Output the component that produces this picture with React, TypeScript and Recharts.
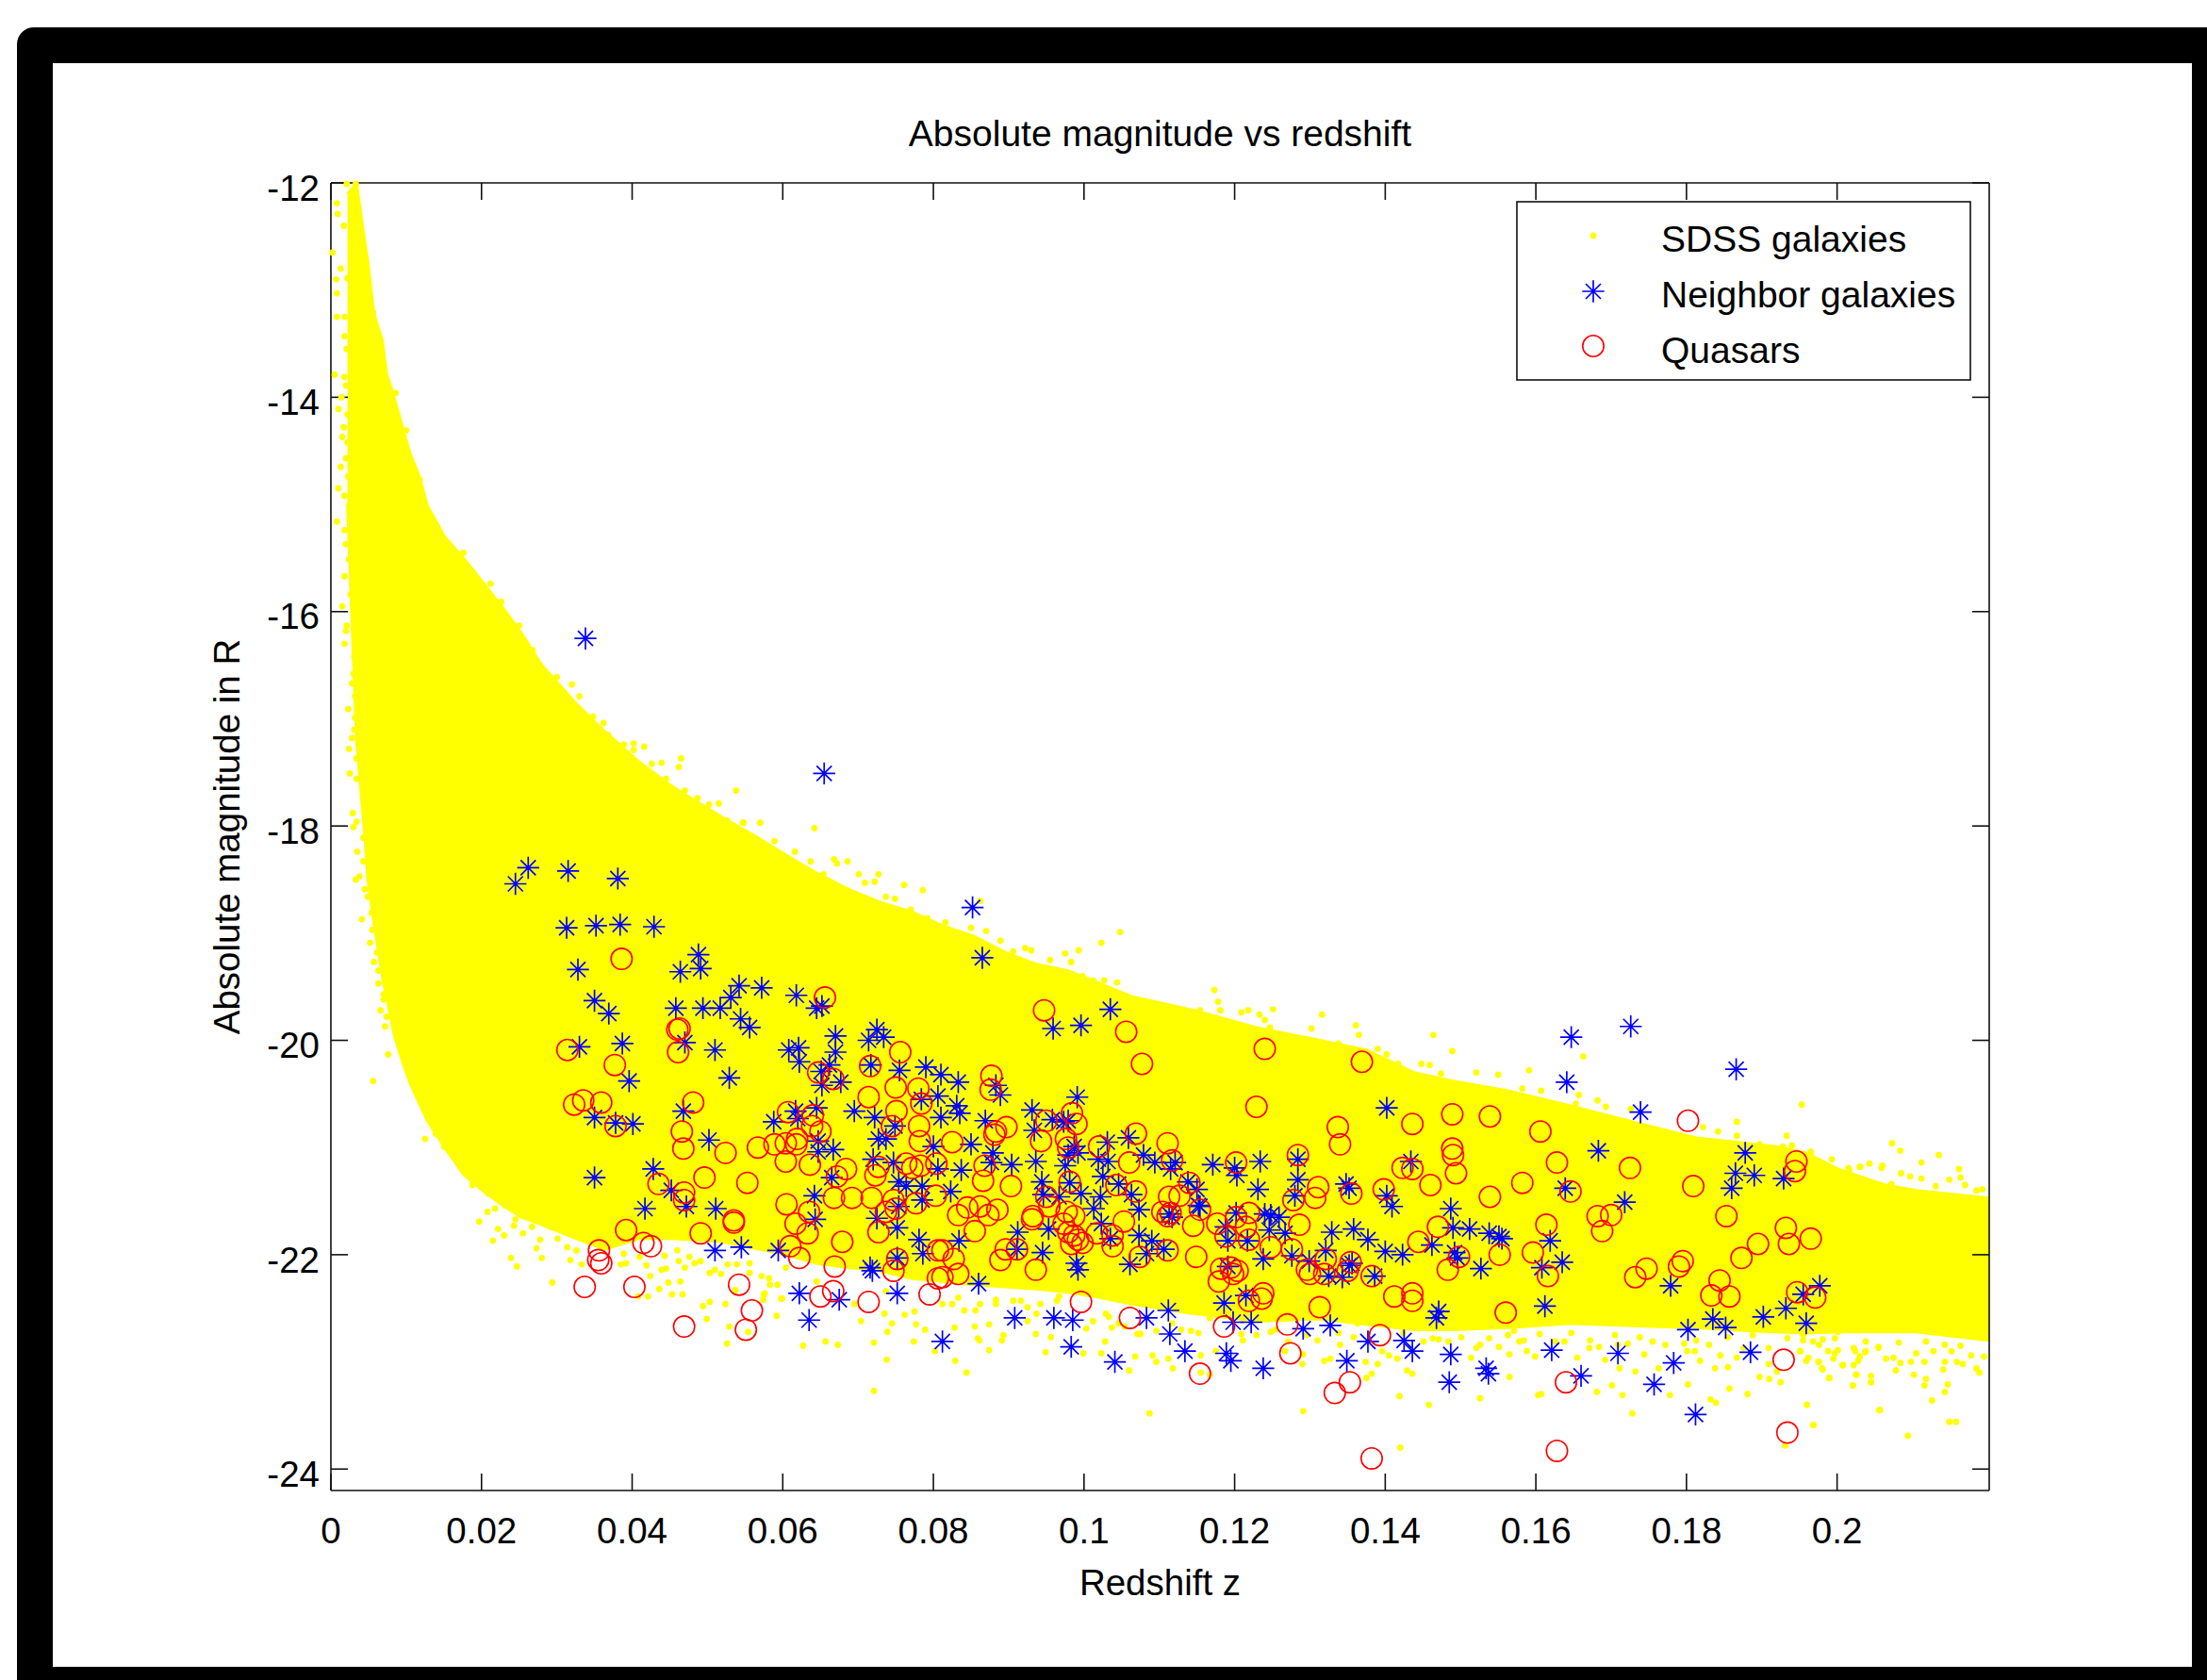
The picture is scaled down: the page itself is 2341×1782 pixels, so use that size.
import React from 'react';
import { ComposedChart, Area, Scatter, XAxis, YAxis, Legend } from 'recharts';

const titleText = 'Absolute magnitude vs redshift';
const xLabelText = 'Redshift z';
const yLabelText = 'Absolute magnitude in R';
const legendOrder = ['SDSS galaxies', 'Neighbor galaxies', 'Quasars'];
const zTicks = [0, 0.02, 0.04, 0.06, 0.08, 0.1, 0.12, 0.14, 0.16, 0.18, 0.2];
const magTicks = [-12, -14, -16, -18, -20, -22, -24];
const zDomain = [0, 0.2202];
const magDomain = [-24.2, -12];

// Solid body of the SDSS cloud: [z, bright edge, faint edge]
const sdssBand = [
  [0.0022, -12.1, -15.0], [0.0034, -12.0, -17.2], [0.0045, -12.55, -18.1], [0.0049, -12.73, -18.5], [0.0057, -13.22, -18.9],
  [0.0068, -13.46, -19.4], [0.0074, -13.78, -19.6], [0.0084, -14.0, -19.95], [0.0095, -14.28, -20.2], [0.0105, -14.52, -20.4],
  [0.0118, -14.75, -20.6], [0.0128, -15.01, -20.75], [0.0151, -15.3, -21.0], [0.0176, -15.5, -21.25], [0.0201, -15.72, -21.4],
  [0.023, -15.98, -21.55], [0.0253, -16.2, -21.65], [0.028, -16.5, -21.72], [0.0326, -16.86, -21.85], [0.0364, -17.12, -21.95],
  [0.0409, -17.4, -21.85], [0.0451, -17.62, -21.85], [0.0478, -17.74, -21.86], [0.052, -17.92, -21.88], [0.0562, -18.09, -21.94],
  [0.0604, -18.27, -22.0], [0.0645, -18.44, -22.08], [0.0687, -18.59, -22.12], [0.0729, -18.71, -22.15], [0.0771, -18.8, -22.22],
  [0.0812, -18.93, -22.25], [0.0854, -19.03, -22.28], [0.0896, -19.18, -22.3], [0.0937, -19.29, -22.32], [0.0979, -19.35, -22.35],
  [0.1021, -19.47, -22.4], [0.1063, -19.59, -22.46], [0.1146, -19.72, -22.55], [0.1229, -19.88, -22.62], [0.1313, -20.0, -22.6],
  [0.1375, -20.09, -22.65], [0.1438, -20.3, -22.7], [0.149, -20.38, -22.7], [0.1563, -20.47, -22.68], [0.1646, -20.61, -22.64],
  [0.1751, -20.8, -22.67], [0.1813, -20.91, -22.68], [0.1855, -20.94, -22.7], [0.1917, -20.99, -22.72], [0.1959, -21.05, -22.73],
  [0.2001, -21.2, -22.72], [0.2064, -21.35, -22.72], [0.2105, -21.4, -22.72], [0.2201, -21.47, -22.8],
];

// Individually visible SDSS dots around the body
const sdssLeftDots = [
  [.0021,-12.01],[.0033,-12.01],[.0008,-12.19],[.0009,-12.29],[.0017,-12.40],[.0002,-12.65],[.0013,-12.80],[.0007,-12.90],[.0022,-12.89],[.0008,-13.03],
  [.0008,-13.25],[.0018,-13.25],[.0018,-13.43],[.0021,-13.55],[.0005,-13.79],[.0018,-13.81],[.0020,-13.89],[.0014,-14.00],[.0010,-14.11],[.0022,-14.16],
  [.0017,-14.28],[.0015,-14.37],[.0022,-14.42],[.0013,-14.65],[.0020,-14.57],[.0023,-14.74],[.0010,-14.85],[.0018,-14.92],[.0025,-15.00],[.0028,-15.07],
  [.0008,-15.16],[.0018,-15.24],[.0020,-15.37],[.0024,-15.51],[.0018,-15.67],[.0028,-15.75],[.0026,-15.84],[.0015,-15.95],[.0032,-16.04],[.0021,-16.13],
  [.0020,-16.18],[.0018,-16.30],[.0036,-16.32],[.0043,-16.19],[.0033,-15.13],[.0038,-15.48],[.0052,-13.14],[.0056,-13.21],[.0086,-13.96],[.0078,-13.92],
  [.0100,-14.31],[.0118,-14.77],[.0176,-15.45],[.0212,-15.74],[.0226,-15.91],[.0250,-16.13],[.0249,-16.21],[.0268,-16.36],
  [.0031,-16.42],[.0030,-16.58],[.0028,-16.67],[.0032,-16.79],[.0023,-16.91],[.0032,-16.99],[.0031,-17.10],[.0028,-17.18],[.0024,-17.28],[.0034,-17.37],
  [.0025,-17.51],[.0034,-17.56],[.0043,-17.71],[.0029,-17.88],[.0034,-17.96],[.0030,-18.01],[.0043,-18.11],[.0055,-18.17],[.0035,-18.24],[.0043,-18.33],
  [.0055,-18.36],[.0038,-18.47],[.0033,-18.50],[.0055,-18.46],[.0045,-18.59],[.0049,-18.66],[.0054,-18.81],[.0041,-18.87],[.0055,-18.97],[.0052,-19.09],
  [.0061,-19.18],[.0057,-19.27],[.0063,-19.35],[.0063,-19.47],[.0078,-19.47],[.0070,-19.57],[.0070,-19.62],[.0066,-19.72],[.0074,-19.78],[.0072,-19.87],
  [.0086,-19.91],[.0093,-19.96],[.0106,-20.00],[.0076,-20.13],[.0106,-20.18],[.0108,-20.26],[.0056,-20.38],[.0116,-20.35],[.0114,-20.44],[.0126,-20.50],
  [.0133,-20.62],[.0149,-20.67],[.0159,-20.72],
];
const sdssUpperDots = [
  [.0538,-17.67],[.0465,-17.37],[.0462,-17.45],[.0416,-17.26],[.0402,-17.23],[.0402,-17.29],[.0439,-17.41],[.0362,-17.04],[.0348,-16.98],[.0320,-16.68],
  [.0300,-16.61],[.0330,-16.79],[.0570,-17.97],[.0548,-17.97],[.0515,-17.79],[.0502,-17.80],[.0445,-17.56],[.0368,-17.15],[.0389,-17.24],[.0426,-17.42],
  [.0470,-17.67],[.0487,-17.74],[.0526,-17.95],[.0547,-17.97],[.0589,-18.14],[.0616,-18.24],[.0642,-18.02],[.0668,-18.31],[.0686,-18.33],[.0672,-18.35],
  [.0637,-18.33],[.0654,-18.45],[.0701,-18.45],[.0727,-18.45],[.0709,-18.53],[.0722,-18.52],[.0761,-18.55],[.0786,-18.60],[.0737,-18.66],[.0749,-18.68],
  [.0770,-18.78],[.0792,-18.86],[.0816,-18.90],[.0850,-18.95],[.0862,-18.70],[.0870,-18.98],[.0889,-19.07],[.0922,-19.14],[.0930,-19.16],[.0906,-19.17],
  [.0955,-19.25],[.0975,-19.19],[.0993,-19.16],[.1023,-19.09],[.1048,-18.99],[.0983,-19.27],[.0998,-19.40],[.1012,-19.44],[.1027,-19.44],[.1044,-19.46],
  [.1316,-19.76],[.1251,-19.71],[.1361,-19.86],[.1365,-19.95],[.1302,-19.89],[.1173,-19.53],[.1178,-19.64],[.1181,-19.72],[.1218,-19.72],[.1209,-19.74],
  [.1233,-19.76],[.1240,-19.81],[.1247,-19.88],[.1390,-20.08],[.1417,-20.22],[.1402,-20.13],[.1154,-19.72],[.1284,-19.98],[.1308,-20.01],[.1338,-20.03],
  [.1464,-19.95],[.1489,-20.10],[.1448,-20.22],[.1459,-20.23],[.1474,-20.31],[.1521,-20.30],[.1550,-20.32],[.1591,-20.28],[.1582,-20.45],[.1607,-20.47],
  [.1663,-20.15],[.1657,-20.51],[.1682,-20.56],[.1653,-20.59],[.1693,-20.62],[.1726,-20.64],[.1953,-20.60],[.1867,-20.76],[.1933,-20.89],[.1822,-20.81],
  [.1842,-20.85],[.1867,-20.89],[.1897,-20.97],[.1940,-20.98],[.1928,-20.99],[.1965,-21.05],[.1993,-21.11],[.2015,-21.19],[.2030,-21.18],[.2043,-21.15],
  [.2059,-21.19],[.2073,-20.96],[.2084,-21.03],[.2135,-21.07],[.2112,-21.14],[.2162,-21.20],[.1965,-21.04],[.2031,-21.18],[.2060,-21.17],[.2085,-21.24],
  [.2097,-21.27],[.2112,-21.29],[.2149,-21.30],[.2164,-21.28],[.2170,-21.35],[.2193,-21.39],[.2185,-21.40],[.2131,-21.36],[.2072,-21.34],[.2016,-21.21],
];
const sdssLowerDots = [
  [.0125,-20.92],[.0133,-20.62],[.0139,-20.87],[.0150,-20.99],[.0162,-20.86],[.0167,-21.01],[.0175,-21.06],[.0184,-21.06],[.0189,-21.27],[.0188,-21.35],
  [.0197,-21.69],[.0208,-21.60],[.0209,-21.43],[.0215,-21.87],[.0222,-21.76],[.0230,-21.82],[.0239,-22.03],[.0247,-22.11],[.0280,-22.03],[.0294,-22.26],
  [.0273,-21.94],[.0255,-21.80],[.0245,-21.67],[.0267,-21.74],[.0248,-21.54],[.0266,-21.65],[.0218,-21.57],[.0232,-21.54],[.0278,-21.86],[.0301,-21.85],
  [.0314,-21.93],[.0318,-22.05],[.0333,-22.09],[.0326,-21.96],[.0280,-21.61],[.0243,-21.73],[.0291,-21.74],[.0312,-21.79],[.0320,-21.80],[.0347,-21.80],
  [.0385,-22.09],[.0392,-22.08],[.0419,-22.10],[.0424,-22.20],[.0439,-22.14],[.0445,-22.13],[.0436,-22.32],[.0453,-22.37],[.0467,-22.37],[.0421,-22.39],
  [.0408,-22.39],[.0448,-22.26],[.0464,-22.25],[.0470,-22.12],[.0476,-22.02],[.0462,-22.06],[.0483,-22.08],[.0491,-22.06],[.0503,-22.17],[.0510,-22.14],
  [.0518,-22.18],[.0527,-22.09],[.0539,-22.09],[.0537,-22.33],[.0556,-22.08],[.0556,-22.17],[.0572,-22.20],[.0582,-22.22],[.0593,-22.28],[.0604,-22.12],
  [.0576,-22.36],[.0574,-22.42],[.0598,-22.41],[.0592,-22.57],[.0524,-22.46],[.0503,-22.44],[.0494,-22.48],[.0499,-22.60],[.0529,-22.67],[.0554,-22.72],
  [.0526,-22.83],[.0389,-21.99],[.0410,-22.02],[.0443,-22.01],[.0460,-21.96],
  [.0599,-22.41],[.0575,-22.37],[.0627,-22.85],[.0657,-22.81],[.0673,-22.84],[.0721,-22.82],[.0738,-22.98],[.0721,-23.27],[.0774,-22.81],[.0789,-22.70],
  [.0777,-22.65],[.0739,-22.72],[.0745,-22.64],[.0735,-22.55],[.0704,-22.62],[.0762,-22.56],[.0829,-22.99],[.0844,-23.10],[.0802,-22.90],[.0828,-22.68],
  [.0855,-22.67],[.0874,-22.65],[.0859,-22.78],[.0874,-22.89],[.0893,-22.75],[.0891,-22.80],[.0936,-22.74],[.0956,-22.77],[.0949,-22.91],[.0999,-22.92],
  [.1023,-22.92],[.1028,-22.81],[.1068,-22.95],[.1091,-22.94],[.1096,-23.00],[.1060,-23.08],[.1118,-23.06],[.1087,-23.48],[.1155,-23.10],[.1112,-22.97],
  [.1155,-22.94],[.1175,-22.90],[.1003,-22.69],[.0925,-22.62],[.1012,-22.62],[.1037,-22.68],[.1071,-22.74],[.0583,-22.28],[.0645,-22.25],[.0695,-22.46],
  [.0737,-22.34],[.0775,-22.53],[.0812,-22.46],[.0833,-22.40],[.0856,-22.52],[.0883,-22.46],[.0916,-22.43],[.0937,-22.55],[.0964,-22.43],[.1033,-22.58],
  [.1291,-23.46],[.1419,-23.32],[.1420,-23.80],[.0861,-22.80],[.1167,-23.12],[.1211,-22.80],[.1152,-22.73],[.1142,-22.71],[.1248,-22.72],[.1267,-22.90],
  [.1291,-22.93],[.1290,-23.02],[.1319,-22.99],[.1327,-22.97],[.1340,-22.84],[.1310,-22.80],[.1374,-23.00],[.1390,-23.02],[.1405,-22.94],[.1416,-22.97],
  [.1375,-23.15],[.1382,-23.11],[.1075,-22.74],[.1129,-22.70],[.1054,-22.67],[.1209,-22.74],[.1271,-22.81],[.1358,-22.77],[.1396,-22.90],[.1429,-23.08],
  [.1436,-23.11],
  [.0825,-22.46],[.0841,-22.52],[.0862,-22.46],[.0883,-22.42],[.0906,-22.43],[.0925,-22.49],[.0942,-22.46],[.0967,-22.39],[.1012,-22.62],[.1029,-22.55],
  [.1046,-22.64],[.1096,-22.71],[.1117,-22.64],[.1167,-22.59],[.1229,-22.75],[.1254,-22.70],[.1296,-22.75],[.1338,-22.73],[.1363,-22.64],[.1424,-22.73],
  [.1440,-22.64],
  [.1458,-23.40],[.1526,-23.34],[.1565,-23.14],[.1603,-23.31],[.1607,-23.30],[.1681,-23.28],[.1701,-23.22],[.1715,-23.31],[.1728,-23.48],[.1778,-23.31],
  [.1802,-23.21],[.1832,-23.35],[.1839,-23.38],[.1857,-23.25],[.1881,-23.30],[.1897,-23.14],[.1910,-23.16],[.1925,-23.19],[.1960,-23.40],[.1968,-23.59],
  [.1931,-23.78],[.2021,-23.22],[.2045,-23.19],[.2056,-23.45],[.1989,-23.15],[.2045,-23.13],[.1514,-22.96],[.1565,-22.93],[.1588,-22.90],[.1599,-22.95],
  [.1551,-22.86],[.1578,-22.81],[.1655,-22.96],[.1671,-22.87],[.1684,-22.86],[.1692,-22.98],[.1711,-23.06],[.1732,-23.09],[.1744,-22.93],[.1763,-23.06],
  [.1801,-22.90],[.1811,-22.90],[.1818,-22.99],[.1838,-23.06],[.1855,-23.05],[.1909,-23.02],[.1920,-23.09],[.1951,-22.90],[.1980,-23.06],[.2007,-23.03],
  [.2022,-23.03],[.2026,-23.12],[.2030,-22.95],[.1959,-22.99],[.1976,-23.00],[.1997,-22.92],[.2038,-22.90],[.1876,-22.87],[.1845,-22.94],[.1772,-22.84],
  [.1709,-22.84],[.1638,-22.81],[.1526,-22.84],[.1451,-22.81],[.1471,-22.79],
  [.1463,-22.78],[.1484,-22.81],[.1501,-22.77],[.1521,-22.87],[.1538,-22.78],[.1563,-22.75],[.1571,-22.71],[.1584,-22.80],[.1605,-22.74],[.1626,-22.81],
  [.1647,-22.73],[.1672,-22.80],[.1705,-22.75],[.1722,-22.83],[.1738,-22.77],[.1755,-22.81],[.1797,-22.83],[.1813,-22.80],[.1830,-22.84],[.1855,-22.77],
  [.1867,-22.96],[.1888,-22.75],[.1909,-22.87],[.1934,-22.78],[.1955,-22.75],[.1976,-22.84],[.1997,-22.78],[.2022,-22.87],[.2038,-22.81],[.2055,-22.87],
  [.1960,-23.40],[.1969,-23.59],[.2057,-23.45],[.2094,-23.69],[.2149,-23.56],[.2158,-23.56],[.2126,-23.36],[.2143,-23.28],[.2147,-23.21],[.2116,-23.22],
  [.2118,-23.16],[.2102,-23.12],[.2045,-23.19],[.2021,-23.22],[.2025,-23.12],[.1990,-23.15],[.1981,-23.07],[.1975,-23.00],[.2008,-23.03],[.1951,-22.90],
  [.1962,-22.96],[.1988,-22.90],[.2001,-22.89],[.1995,-22.97],[.2024,-22.90],[.2028,-22.99],[.2037,-22.91],[.2055,-22.86],[.2065,-22.97],[.2075,-22.96],
  [.2078,-23.08],[.2084,-23.01],[.2098,-23.00],[.2116,-23.00],[.2082,-22.82],[.2105,-22.92],[.2128,-22.90],[.2143,-23.00],[.2141,-23.07],[.2159,-23.00],
  [.2152,-22.90],[.2167,-23.02],[.2185,-23.06],[.2189,-23.10],[.2195,-22.95],[.2178,-22.94],[.2164,-22.85],[.2143,-22.84],[.2118,-22.81],[.2001,-22.72],
  [.1981,-22.79],[.1968,-22.81],[.1955,-22.80],
];

const neighbors = [
  [.0338,-16.25],[.0655,-17.51],[.0852,-18.76],[.0865,-19.23],
  [.0245,-18.54],[.0262,-18.39],[.0315,-18.42],[.0381,-18.49],[.0313,-18.95],[.0352,-18.93],[.0384,-18.92],[.0429,-18.94],[.0488,-19.20],[.0464,-19.36],
  [.0491,-19.33],[.0328,-19.34],[.0542,-19.49],[.0572,-19.51],[.0618,-19.58],[.0531,-19.60],[.0517,-19.70],[.0494,-19.70],[.0458,-19.70],[.0350,-19.63],
  [.0369,-19.75],[.0544,-19.80],[.0556,-19.88],[.0645,-19.70],[.0652,-19.68],[.0470,-20.02],[.0330,-20.06],[.0387,-20.03],[.0510,-20.09],[.0670,-19.96],
  [.0725,-19.90],[.0734,-19.97],[.0714,-20.00],[.0608,-20.09],[.0621,-20.07],[.0622,-20.20],[.0670,-20.11],[.0662,-20.23],[.0717,-20.23],[.0755,-20.28],
  [.0790,-20.25],[.0810,-20.32],[.0651,-20.29],[.0652,-20.42],[.0677,-20.39],[.0396,-20.38],[.0529,-20.35],[.0695,-20.66],[.0722,-20.72],[.0749,-20.80],
  [.0645,-20.63],[.0617,-20.66],[.0620,-20.73],[.0588,-20.76],[.0468,-20.66],[.0350,-20.72],[.0378,-20.77],[.0401,-20.78],[.0784,-20.55],[.0806,-20.52],
  [.0810,-20.72],[.0727,-20.92],[.0737,-20.92],[.0647,-20.94],[.0647,-21.04],[.0667,-21.02],[.0502,-20.93],[.0800,-20.99],[.0720,-21.11],[.0428,-21.20],
  [.0350,-21.28],[.0747,-21.14],[.0665,-21.28],[.0806,-21.20],[.0754,-21.32],[.0764,-21.36],[.0785,-21.36],[.0452,-21.40],[.0472,-21.55],[.0417,-21.57],
  [.0511,-21.57],[.0642,-21.45],[.0643,-21.67],[.0785,-21.49],[.0754,-21.55],[.0725,-21.66],[.0752,-21.75],[.0781,-21.86],[.0510,-21.96],[.0545,-21.93],
  [.0594,-21.96],[.0786,-21.99],[.0752,-22.03],[.0716,-22.12],[.0719,-22.15],[.0622,-22.36],[.0675,-22.42],[.0752,-22.36],[.0635,-22.61],
  [.1035,-19.71],[.0959,-19.89],[.0996,-19.86],[.1402,-20.63],[.0833,-20.39],[.0831,-20.61],[.0835,-20.68],[.0883,-20.42],[.0889,-20.51],[.0931,-20.65],
  [.0991,-20.53],[.0958,-20.74],[.0979,-20.75],[.0973,-20.76],[.0934,-20.84],[.0869,-20.75],[.0850,-20.97],[.0879,-21.05],[.0877,-21.14],[.0904,-21.16],
  [.0936,-21.13],[.0837,-21.21],[.0823,-21.41],[.0987,-20.99],[.0979,-21.07],[.0975,-21.17],[.0992,-21.05],[.1019,-21.11],[.1031,-20.95],[.1059,-20.91],
  [.1032,-21.13],[.1025,-21.27],[.0944,-21.32],[.0981,-21.33],[.0946,-21.44],[.0967,-21.46],[.0996,-21.43],[.1022,-21.46],[.1046,-21.34],[.1063,-21.44],
  [.1013,-21.57],[.1073,-21.58],[.1079,-21.07],[.1094,-21.14],[.1121,-21.14],[.1115,-21.20],[.1138,-21.32],[.1150,-21.39],[.1152,-21.54],[.1171,-21.16],
  [.1200,-21.19],[.1203,-21.26],[.1234,-21.13],[.1231,-21.39],[.1284,-21.11],[.1284,-21.30],[.1280,-21.45],[.1348,-21.34],[.1352,-21.38],[.1402,-21.45],
  [.1409,-21.55],[.1434,-21.13],[.1113,-21.62],[.1117,-21.65],[.1202,-21.61],[.1240,-21.62],[.1248,-21.63],[.1259,-21.65],[.1154,-21.55],[.1188,-21.74],
  [.1246,-21.77],[.1267,-21.80],[.1329,-21.79],[.1358,-21.76],[.1377,-21.86],[.1400,-21.97],[.1423,-22.00],[.0912,-21.79],[.0953,-21.76],[.1023,-21.71],
  [.1035,-21.85],[.1073,-21.82],[.1090,-21.87],[.1083,-21.99],[.1106,-21.95],[.0834,-21.87],[.0911,-21.95],[.0945,-21.98],[.1191,-21.87],[.1217,-21.87],
  [.1238,-22.04],[.1276,-22.01],[.1299,-22.06],[.1321,-21.96],[.1352,-22.10],[.1356,-22.08],[.1061,-22.09],[.0990,-22.08],[.0992,-22.14],[.1191,-22.11],
  [.1325,-22.20],[.1343,-22.21],[.1386,-22.20],[.0860,-22.27],[.0908,-22.59],[.0960,-22.59],[.0985,-22.61],[.1083,-22.59],[.1112,-22.52],[.1114,-22.74],
  [.0812,-22.81],[.0983,-22.86],[.1041,-23.00],[.1134,-22.90],[.1189,-22.92],[.1195,-22.99],[.1238,-23.06],[.1186,-22.45],[.1215,-22.38],[.1198,-22.63],
  [.1222,-22.63],[.1291,-22.69],[.1327,-22.66],[.1377,-22.81],[.1425,-22.80],[.1436,-22.90],[.1349,-22.99],
  [.1726,-19.87],[.1647,-19.97],[.1866,-20.27],[.1641,-20.39],[.1739,-20.67],[.1683,-21.03],[.1878,-21.05],[.1865,-21.24],[.1890,-21.26],[.1860,-21.38],
  [.1929,-21.29],[.1639,-21.38],[.1718,-21.51],[.1487,-21.57],[.1490,-21.75],[.1512,-21.76],[.1538,-21.80],[.1551,-21.83],[.1555,-21.85],[.1462,-21.91],
  [.1492,-21.98],[.1496,-22.03],[.1619,-21.87],[.1527,-22.13],[.1635,-22.07],[.1608,-22.12],[.1779,-22.29],[.1977,-22.29],[.1955,-22.37],[.1612,-22.48],
  [.1471,-22.53],[.1468,-22.59],[.1802,-22.70],[.1835,-22.60],[.1852,-22.68],[.1902,-22.58],[.1932,-22.50],[.1959,-22.64],[.1885,-22.91],[.1783,-23.01],
  [.1709,-22.92],[.1621,-22.89],[.1487,-22.93],[.1534,-23.06],[.1537,-23.11],[.1485,-23.19],[.1660,-23.13],[.1757,-23.21],[.1812,-23.49],
];

const quasars = [
  [.0386,-19.24],[.0656,-19.60],[.0460,-19.90],[.0463,-19.89],[.0461,-20.11],[.0314,-20.09],[.0377,-20.23],[.0481,-20.58],[.0323,-20.60],[.0335,-20.56],
  [.0359,-20.58],[.0378,-20.80],[.0647,-20.30],[.0667,-20.36],[.0716,-20.24],[.0756,-20.11],[.0750,-20.44],[.0714,-20.53],[.0780,-20.45],[.0784,-20.59],
  [.0751,-20.66],[.0745,-20.80],[.0781,-20.80],[.0782,-20.94],[.0607,-20.67],[.0640,-20.70],[.0639,-20.80],[.0650,-20.85],[.0466,-20.85],[.0468,-21.01],
  [.0567,-21.00],[.0589,-20.97],[.0604,-20.96],[.0619,-20.92],[.0618,-20.97],[.0524,-21.05],[.0604,-21.13],[.0636,-21.16],[.0684,-21.20],[.0727,-21.18],
  [.0723,-21.26],[.0672,-21.27],[.0764,-21.15],[.0772,-21.19],[.0783,-21.17],[.0804,-21.15],[.0496,-21.28],[.0553,-21.33],[.0435,-21.34],[.0469,-21.42],
  [.0469,-21.49],[.0668,-21.47],[.0692,-21.47],[.0718,-21.47],[.0747,-21.49],[.0777,-21.52],[.0803,-21.45],[.0737,-21.60],[.0750,-21.57],[.0605,-21.53],
  [.0635,-21.60],[.0617,-21.71],[.0633,-21.80],[.0727,-21.79],[.0535,-21.68],[.0535,-21.70],[.0392,-21.77],[.0415,-21.89],[.0425,-21.92],[.0491,-21.80],
  [.0679,-21.88],[.0356,-21.96],[.0355,-22.05],[.0359,-22.08],[.0610,-21.92],[.0622,-22.03],[.0669,-22.11],[.0752,-22.04],[.0747,-22.15],[.0806,-21.96],
  [.0806,-22.22],[.0337,-22.30],[.0403,-22.30],[.0542,-22.28],[.0650,-22.39],[.0667,-22.34],[.0714,-22.44],[.0795,-22.37],[.0559,-22.52],[.0469,-22.67],
  [.0551,-22.70],
  [.0947,-19.72],[.1056,-19.92],[.1077,-20.22],[.1240,-20.08],[.1229,-20.62],[.1369,-20.20],[.1337,-20.81],[.1340,-20.97],[.1436,-20.78],[.0877,-20.33],
  [.0876,-20.46],[.0950,-20.75],[.0984,-20.68],[.0990,-20.78],[.0897,-20.81],[.0883,-20.85],[.0881,-20.88],[.0825,-20.95],[.0943,-20.94],[.0976,-20.92],
  [.0979,-21.00],[.1020,-20.99],[.1069,-20.87],[.1111,-20.96],[.1117,-21.12],[.1060,-21.14],[.0868,-21.17],[.0866,-21.31],[.0903,-21.36],[.0981,-21.32],
  [.1043,-21.35],[.1069,-21.41],[.1140,-21.33],[.1202,-21.14],[.1284,-21.07],[.1311,-21.37],[.1307,-21.47],[.1278,-21.49],[.1355,-21.43],[.1398,-21.39],
  [.1423,-21.19],[.1436,-21.20],[.0833,-21.63],[.0845,-21.56],[.0862,-21.55],[.0873,-21.63],[.0885,-21.58],[.0855,-21.78],[.0932,-21.64],[.0931,-21.67],
  [.0954,-21.55],[.0950,-21.46],[.0977,-21.60],[.0987,-21.64],[.0973,-21.71],[.0979,-21.79],[.0987,-21.82],[.0992,-21.86],[.0983,-21.90],[.0998,-21.89],
  [.1017,-21.80],[.1038,-21.82],[.1053,-21.69],[.1038,-21.92],[.1104,-21.60],[.1113,-21.46],[.1127,-21.45],[.1115,-21.61],[.1111,-21.64],[.1154,-21.58],
  [.1145,-21.73],[.1177,-21.71],[.1202,-21.65],[.1219,-21.61],[.1215,-21.74],[.1188,-21.83],[.1219,-21.86],[.1286,-21.72],[.1248,-21.93],[.1276,-21.95],
  [.1321,-22.04],[.1354,-22.07],[.1074,-22.02],[.1111,-21.96],[.1149,-22.02],[.0896,-21.95],[.0889,-22.05],[.0911,-21.95],[.0936,-22.14],[.0827,-22.04],
  [.0833,-22.18],[.0812,-21.96],[.0812,-22.21],[.1182,-22.13],[.1195,-22.12],[.1204,-22.15],[.1198,-22.18],[.1179,-22.25],[.1296,-22.14],[.1300,-22.18],
  [.1319,-22.18],[.1350,-22.15],[.1382,-22.20],[.1238,-22.36],[.1236,-22.41],[.1219,-22.43],[.1313,-22.49],[.1412,-22.39],[.1436,-22.36],[.1436,-22.43],
  [.0996,-22.44],[.1061,-22.59],[.1186,-22.67],[.1270,-22.65],[.1393,-22.75],[.1274,-22.92],[.1154,-23.11],[.1353,-23.19],[.1333,-23.29],[.1382,-23.90],
  [.1489,-20.69],[.1539,-20.71],[.1606,-20.85],[.1802,-20.75],[.1489,-21.01],[.1490,-21.07],[.1494,-21.24],[.1628,-21.14],[.1582,-21.33],[.1725,-21.19],
  [.1646,-21.41],[.1460,-21.35],[.1539,-21.46],[.1809,-21.36],[.1946,-21.13],[.1944,-21.22],[.1682,-21.64],[.1700,-21.63],[.1688,-21.78],[.1853,-21.64],
  [.1470,-21.74],[.1614,-21.72],[.1444,-21.88],[.1932,-21.75],[.1936,-21.90],[.1895,-21.90],[.1965,-21.85],[.1873,-22.03],[.1498,-22.02],[.1483,-22.14],
  [.1552,-22.00],[.1596,-21.98],[.1616,-22.20],[.1795,-22.06],[.1790,-22.11],[.1747,-22.13],[.1732,-22.21],[.1844,-22.24],[.1833,-22.38],[.1857,-22.39],
  [.1947,-22.35],[.1971,-22.40],[.1560,-22.54],[.1929,-22.98],[.1640,-23.19],[.1934,-23.66],[.1628,-23.83],
];

const toPoints = (list: number[][]) => list.map(([z, m]) => ({ z, m }));
const bandData = sdssBand.map(([z, bright, faint]) => ({ z, range: [faint, bright] }));
const sdssPoints = toPoints([...sdssLeftDots, ...sdssUpperDots, ...sdssLowerDots]);

const YELLOW = '#ffff00';
const BLUE = '#0000ff';
const RED = '#ff0000';
const FONT = '"Liberation Sans", Arial, sans-serif';
const AXIS = '#111111';
const tickStyle = { fontFamily: FONT, fontSize: 38.5, fill: '#000' };
const noLabel = () => '';

const Star = ({ cx, cy, a = 11.7, d = 8 }: any) => (
  <path
    d={`M${cx - a} ${cy}H${cx + a}M${cx} ${cy - a}V${cy + a}M${cx - d} ${cy - d}L${cx + d} ${cy + d}M${cx - d} ${cy + d}L${cx + d} ${cy - d}`}
    stroke={BLUE}
    strokeWidth={1.7}
    fill="none"
  />
);
const Ring = ({ cx, cy }: any) => <circle cx={cx} cy={cy} r={11.2} stroke={RED} strokeWidth={1.6} fill="none" />;
const Dot = ({ cx, cy }: any) => <circle cx={cx} cy={cy} r={3.4} fill={YELLOW} />;

const legendMarks = [<Dot cx={81} cy={36} />, <Star cx={81} cy={95} />, <Ring cx={81} cy={153} />];

const LegendBox = () => (
  <svg width={481} height={189} style={{ display: 'block', overflow: 'visible' }}>
    <rect x={0} y={0} width={481} height={189} fill="#fff" stroke={AXIS} strokeWidth={1.6} />
    {legendOrder.map((name, i) => (
      <g key={name}>
        {legendMarks[i]}
        <text x={153} y={53 + i * 59} fontFamily={FONT} fontSize={39} fill="#000">
          {name}
        </text>
      </g>
    ))}
  </svg>
);

export default function App() {
  return (
    <div style={{ position: 'absolute', left: 0, top: 0, width: 2341, height: 1782, overflow: 'hidden', background: '#fff' }}>
      <div
        style={{
          position: 'absolute', left: 18, top: 29, width: 2323, height: 1753, boxSizing: 'border-box',
          borderStyle: 'solid', borderColor: '#000', borderWidth: '38px 16px 14px 38px', borderTopLeftRadius: 18,
        }}
      />
      <div style={{ position: 'absolute', left: 0, top: 0 }}>
        <ComposedChart width={2341} height={1782} data={bandData} margin={{ top: 193, right: 230, bottom: 90, left: 100 }}>
          <Area dataKey="range" stroke={YELLOW} strokeWidth={3} fill={YELLOW} fillOpacity={1} dot={false} activeDot={false} isAnimationActive={false} legendType="none" />
          <Scatter name="SDSS galaxies" data={sdssPoints} shape={Dot} isAnimationActive={false} fill={YELLOW} />
          <Scatter name="Neighbor galaxies" data={toPoints(neighbors)} shape={Star} isAnimationActive={false} fill={BLUE} />
          <Scatter name="Quasars" data={toPoints(quasars)} shape={Ring} isAnimationActive={false} fill={RED} />
          <XAxis
            dataKey="z" type="number" domain={zDomain} ticks={zTicks} height={111} interval={0}
            stroke={AXIS} strokeWidth={1.6} tickSize={-18} tickMargin={47} tick={tickStyle} tickFormatter={(v: number) => String(v)}
            label={{ value: xLabelText, position: 'insideBottom', offset: 0, style: { fontFamily: FONT, fontSize: 38.5, fill: '#000' } }}
          />
          <YAxis
            dataKey="m" type="number" domain={magDomain} ticks={magTicks} width={251} interval={0}
            stroke={AXIS} strokeWidth={1.6} tickSize={-18} tickMargin={30} tick={{ ...tickStyle, dy: 5 }}
            label={{ value: yLabelText, angle: -90, position: 'insideLeft', offset: 140, style: { textAnchor: 'middle', fontFamily: FONT, fontSize: 38.5, fill: '#000' } }}
          />
          <XAxis
            xAxisId="top" dataKey="z" orientation="top" type="number" domain={zDomain} allowDataOverflow ticks={zTicks} height={1} interval={0}
            stroke={AXIS} strokeWidth={1.6} tickSize={-18} tickFormatter={noLabel}
            label={{ value: titleText, position: 'top', offset: 38, style: { fontFamily: FONT, fontSize: 39, fill: '#000' } }}
          />
          <YAxis
            yAxisId="right" orientation="right" type="number" domain={magDomain} allowDataOverflow ticks={magTicks} width={1} interval={0}
            stroke={AXIS} strokeWidth={1.6} tickSize={-18} tickFormatter={noLabel}
          />
          <Legend
            layout="vertical" align="center" verticalAlign="middle" content={<LegendBox />}
            wrapperStyle={{ left: 1609, top: 214, width: 481, height: 189 }}
          />
        </ComposedChart>
      </div>
    </div>
  );
}
